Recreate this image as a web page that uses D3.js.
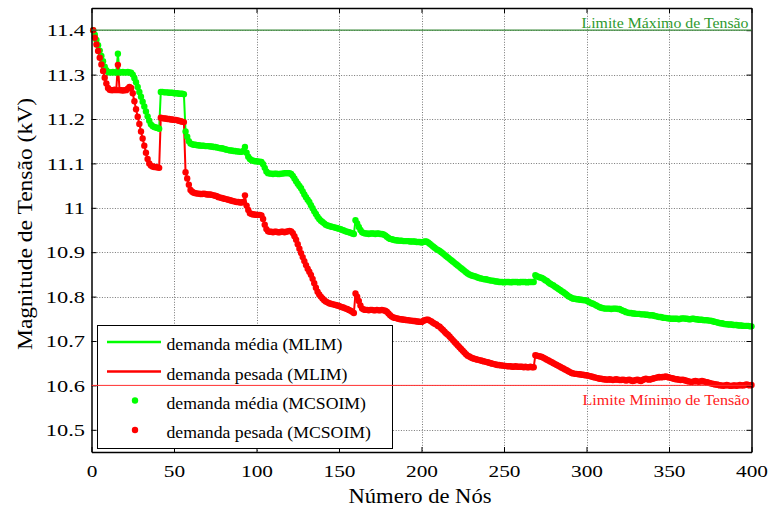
<!DOCTYPE html>
<html>
<head>
<meta charset="utf-8">
<script src="https://cdn.jsdelivr.net/npm/d3@7"></script>
<style>
  html, body { margin: 0; padding: 0; background: #fff; }
  svg { display: block; }
</style>
</head>
<body>
<svg id="chart" width="769" height="508"></svg>
<script>
// Tensão por nó (kV), nós 1..400 — demanda média
const demandaMedia = [
  11.400, 11.390, 11.378, 11.366, 11.354, 11.342, 11.330, 11.318, 11.310, 11.306,
  11.305, 11.305, 11.306, 11.305, 11.305, 11.347, 11.305, 11.305, 11.306, 11.305,
  11.305, 11.306, 11.305, 11.304, 11.300, 11.292, 11.283, 11.272, 11.261, 11.250,
  11.239, 11.228, 11.217, 11.206, 11.196, 11.188, 11.184, 11.182, 11.181, 11.180,
  11.178, 11.261, 11.261, 11.260, 11.260, 11.260, 11.259, 11.259, 11.259, 11.258,
  11.258, 11.258, 11.257, 11.257, 11.257, 11.256, 11.172, 11.160, 11.150, 11.145,
  11.143, 11.142, 11.142, 11.141, 11.141, 11.140, 11.140, 11.140, 11.139, 11.139,
  11.139, 11.138, 11.138, 11.137, 11.137, 11.136, 11.135, 11.134, 11.134, 11.133,
  11.132, 11.131, 11.130, 11.129, 11.129, 11.128, 11.128, 11.127, 11.127, 11.126,
  11.126, 11.128, 11.137, 11.124, 11.115, 11.110, 11.107, 11.106, 11.105, 11.105,
  11.104, 11.104, 11.103, 11.098, 11.090, 11.082, 11.078, 11.077, 11.077, 11.076,
  11.077, 11.077, 11.076, 11.076, 11.077, 11.077, 11.078, 11.078, 11.078, 11.078,
  11.076, 11.072, 11.066, 11.060, 11.054, 11.049, 11.044, 11.037, 11.030, 11.024,
  11.018, 11.013, 11.006, 10.999, 10.992, 10.986, 10.980, 10.975, 10.971, 10.968,
  10.965, 10.962, 10.960, 10.959, 10.958, 10.957, 10.956, 10.955, 10.954, 10.953,
  10.952, 10.950, 10.949, 10.947, 10.946, 10.945, 10.944, 10.942, 10.941, 10.972,
  10.965, 10.957, 10.950, 10.945, 10.943, 10.942, 10.942, 10.941, 10.942, 10.942,
  10.942, 10.941, 10.942, 10.942, 10.941, 10.941, 10.940, 10.938, 10.935, 10.932,
  10.930, 10.929, 10.928, 10.927, 10.927, 10.926, 10.926, 10.926, 10.925, 10.925,
  10.925, 10.925, 10.924, 10.924, 10.924, 10.924, 10.923, 10.923, 10.923, 10.922,
  10.923, 10.924, 10.924, 10.922, 10.919, 10.916, 10.913, 10.910, 10.907, 10.905,
  10.903, 10.900, 10.897, 10.894, 10.891, 10.888, 10.885, 10.882, 10.879, 10.876,
  10.873, 10.870, 10.867, 10.864, 10.861, 10.858, 10.855, 10.852, 10.850, 10.848,
  10.847, 10.846, 10.845, 10.843, 10.842, 10.841, 10.840, 10.839, 10.839, 10.838,
  10.837, 10.836, 10.836, 10.835, 10.834, 10.834, 10.833, 10.833, 10.833, 10.832,
  10.833, 10.833, 10.833, 10.832, 10.833, 10.833, 10.833, 10.833, 10.832, 10.833,
  10.833, 10.833, 10.833, 10.832, 10.833, 10.833, 10.833, 10.833, 10.848, 10.846,
  10.844, 10.843, 10.842, 10.840, 10.837, 10.835, 10.832, 10.829, 10.827, 10.825,
  10.822, 10.820, 10.817, 10.815, 10.812, 10.810, 10.807, 10.804, 10.801, 10.799,
  10.797, 10.795, 10.795, 10.794, 10.794, 10.793, 10.793, 10.792, 10.792, 10.791,
  10.789, 10.787, 10.785, 10.784, 10.782, 10.780, 10.778, 10.776, 10.775, 10.774,
  10.773, 10.773, 10.773, 10.773, 10.772, 10.773, 10.773, 10.773, 10.772, 10.772,
  10.770, 10.768, 10.767, 10.765, 10.764, 10.763, 10.763, 10.762, 10.762, 10.761,
  10.761, 10.761, 10.760, 10.760, 10.760, 10.759, 10.759, 10.758, 10.758, 10.758,
  10.757, 10.756, 10.755, 10.754, 10.754, 10.753, 10.752, 10.752, 10.751, 10.751,
  10.750, 10.750, 10.750, 10.750, 10.750, 10.749, 10.750, 10.751, 10.751, 10.750,
  10.750, 10.749, 10.749, 10.750, 10.750, 10.749, 10.749, 10.748, 10.748, 10.748,
  10.747, 10.747, 10.747, 10.746, 10.746, 10.745, 10.744, 10.743, 10.742, 10.741,
  10.740, 10.740, 10.739, 10.738, 10.738, 10.737, 10.737, 10.737, 10.736, 10.736,
  10.736, 10.735, 10.735, 10.735, 10.734, 10.734, 10.734, 10.734, 10.733, 10.733
];

// Tensão por nó (kV), nós 1..400 — demanda pesada
const demandaPesada = [
  11.400, 11.383, 11.368, 11.353, 11.338, 11.323, 11.308, 11.293, 11.280, 11.270,
  11.266, 11.265, 11.265, 11.266, 11.265, 11.322, 11.265, 11.265, 11.264, 11.265,
  11.265, 11.268, 11.272, 11.270, 11.258, 11.240, 11.222, 11.205, 11.189, 11.172,
  11.156, 11.140, 11.124, 11.110, 11.100, 11.095, 11.093, 11.092, 11.092, 11.091,
  11.090, 11.203, 11.202, 11.201, 11.201, 11.200, 11.200, 11.199, 11.199, 11.198,
  11.198, 11.197, 11.196, 11.195, 11.194, 11.193, 11.080, 11.066, 11.052, 11.040,
  11.036, 11.034, 11.033, 11.032, 11.032, 11.031, 11.031, 11.032, 11.031, 11.030,
  11.030, 11.030, 11.029, 11.028, 11.027, 11.026, 11.024, 11.023, 11.022, 11.021,
  11.020, 11.019, 11.018, 11.017, 11.016, 11.015, 11.014, 11.013, 11.013, 11.012,
  11.012, 11.013, 11.028, 11.005, 10.995, 10.988, 10.986, 10.985, 10.985, 10.984,
  10.984, 10.984, 10.983, 10.975, 10.962, 10.952, 10.947, 10.946, 10.946, 10.945,
  10.946, 10.946, 10.945, 10.945, 10.946, 10.946, 10.945, 10.946, 10.947, 10.948,
  10.947, 10.943, 10.936, 10.928, 10.918, 10.908, 10.898, 10.889, 10.880, 10.871,
  10.863, 10.856, 10.849, 10.840, 10.830, 10.820, 10.811, 10.805, 10.800, 10.796,
  10.792, 10.789, 10.787, 10.785, 10.784, 10.783, 10.782, 10.781, 10.780, 10.779,
  10.777, 10.776, 10.775, 10.773, 10.772, 10.770, 10.768, 10.766, 10.763, 10.807,
  10.800, 10.790, 10.780, 10.773, 10.771, 10.770, 10.770, 10.769, 10.770, 10.770,
  10.769, 10.769, 10.770, 10.769, 10.769, 10.770, 10.769, 10.768, 10.766, 10.762,
  10.758, 10.755, 10.753, 10.752, 10.751, 10.750, 10.749, 10.749, 10.748, 10.748,
  10.747, 10.747, 10.746, 10.746, 10.745, 10.745, 10.744, 10.744, 10.743, 10.743,
  10.745, 10.747, 10.748, 10.748, 10.746, 10.744, 10.741, 10.739, 10.737, 10.734,
  10.732, 10.728, 10.725, 10.721, 10.717, 10.714, 10.710, 10.706, 10.702, 10.698,
  10.694, 10.690, 10.686, 10.682, 10.678, 10.674, 10.670, 10.667, 10.665, 10.663,
  10.661, 10.660, 10.659, 10.658, 10.657, 10.656, 10.655, 10.654, 10.653, 10.652,
  10.651, 10.650, 10.649, 10.648, 10.647, 10.646, 10.646, 10.645, 10.645, 10.644,
  10.644, 10.643, 10.643, 10.643, 10.642, 10.642, 10.643, 10.642, 10.642, 10.642,
  10.642, 10.641, 10.642, 10.641, 10.641, 10.642, 10.641, 10.641, 10.668, 10.667,
  10.666, 10.665, 10.664, 10.662, 10.660, 10.658, 10.656, 10.654, 10.652, 10.650,
  10.648, 10.646, 10.644, 10.642, 10.640, 10.638, 10.636, 10.634, 10.632, 10.630,
  10.628, 10.627, 10.626, 10.626, 10.625, 10.625, 10.624, 10.624, 10.623, 10.623,
  10.622, 10.621, 10.620, 10.619, 10.618, 10.617, 10.616, 10.615, 10.615, 10.614,
  10.614, 10.613, 10.613, 10.614, 10.613, 10.612, 10.613, 10.614, 10.613, 10.612,
  10.612, 10.613, 10.612, 10.611, 10.612, 10.613, 10.611, 10.610, 10.611, 10.612,
  10.613, 10.611, 10.610, 10.612, 10.614, 10.615, 10.614, 10.613, 10.614, 10.615,
  10.616, 10.617, 10.618, 10.619, 10.618, 10.619, 10.619, 10.620, 10.619, 10.618,
  10.617, 10.616, 10.615, 10.614, 10.614, 10.613, 10.612, 10.613, 10.612, 10.611,
  10.610, 10.609, 10.608, 10.608, 10.609, 10.610, 10.609, 10.608, 10.609, 10.610,
  10.609, 10.608, 10.607, 10.606, 10.605, 10.604, 10.603, 10.602, 10.602, 10.601,
  10.600, 10.600, 10.599, 10.600, 10.601, 10.600, 10.599, 10.599, 10.600, 10.600,
  10.599, 10.600, 10.601, 10.600, 10.600, 10.601, 10.602, 10.601, 10.600, 10.601
];

const xTicks = [0, 50, 100, 150, 200, 250, 300, 350, 400];
const yTicks = [10.5, 10.6, 10.7, 10.8, 10.9, 11.0, 11.1, 11.2, 11.3, 11.4];
const yTickLabels = ["10.5", "10.6", "10.7", "10.8", "10.9", "11", "11.1", "11.2", "11.3", "11.4"];

const limiteMaximo = 11.4;
const limiteMinimo = 10.6;

const legendLabels = [
  "demanda média (MLIM)",
  "demanda pesada (MLIM)",
  "demanda média (MCSOIM)",
  "demanda pesada (MCSOIM)"
];

// ---- layout ----
const FONT = "'Liberation Serif', 'Times New Roman', serif";
const plot = { left: 91.5, right: 751.5, top: 8, bottom: 452 };
const verde = "#00ff00", vermelho = "#ff0000";

const svg = d3.select("#chart");
const x = d3.scaleLinear().domain([0, 400]).range([plot.left, plot.right]);
const y = d3.scaleLinear().domain([10.45, 11.45]).range([plot.bottom, plot.top]);

// widen serif text horizontally by a factor (or to a fixed width)
function widen(sel, factor, fixed) {
  sel.each(function () {
    const w = fixed != null ? fixed : this.getComputedTextLength() * factor;
    d3.select(this).attr("textLength", w).attr("lengthAdjust", "spacingAndGlyphs");
  });
}

// grid
const grid = svg.append("g").attr("stroke", "#777").attr("stroke-width", 1)
  .attr("stroke-dasharray", "1,1.6");
grid.selectAll("line.gx").data(xTicks.slice(1, -1)).join("line")
  .attr("x1", d => Math.round(x(d)) + 0.5).attr("x2", d => Math.round(x(d)) + 0.5)
  .attr("y1", plot.top).attr("y2", plot.bottom);
grid.selectAll("line.gy").data(yTicks).join("line")
  .attr("y1", d => Math.round(y(d)) + 0.5).attr("y2", d => Math.round(y(d)) + 0.5)
  .attr("x1", plot.left).attr("x2", plot.right);

// data
const pts = arr => arr.map((v, i) => [i + 1, v]);
const line = d3.line().x(d => x(d[0])).y(d => y(d[1]));
const dataG = svg.append("g");
dataG.append("path").datum(pts(demandaMedia)).attr("d", line)
  .attr("fill", "none").attr("stroke", verde).attr("stroke-width", 2);
dataG.append("path").datum(pts(demandaPesada)).attr("d", line)
  .attr("fill", "none").attr("stroke", vermelho).attr("stroke-width", 2);
dataG.append("g").selectAll("circle").data(pts(demandaMedia)).join("circle")
  .attr("cx", d => x(d[0])).attr("cy", d => y(d[1])).attr("r", 3.2).attr("fill", verde);
dataG.append("g").selectAll("circle").data(pts(demandaPesada)).join("circle")
  .attr("cx", d => x(d[0])).attr("cy", d => y(d[1])).attr("r", 3.2).attr("fill", vermelho);

// axes (ticks pointing inward on all four sides)
const tickLen = 5;
const axL = svg.append("g").attr("transform", `translate(${plot.left},0)`)
  .call(d3.axisLeft(y).tickValues(yTicks).tickFormat((d, i) => yTickLabels[i])
    .tickSizeInner(-tickLen).tickSizeOuter(0).tickPadding(6.5));
const axB = svg.append("g").attr("transform", `translate(0,${plot.bottom})`)
  .call(d3.axisBottom(x).tickValues(xTicks).tickFormat(d3.format("d"))
    .tickSizeInner(-tickLen).tickSizeOuter(0));
const axR = svg.append("g").attr("transform", `translate(${plot.right},0)`)
  .call(d3.axisRight(y).tickValues(yTicks).tickFormat("").tickSizeInner(-tickLen).tickSizeOuter(0));
const axT = svg.append("g").attr("transform", `translate(0,${plot.top})`)
  .call(d3.axisTop(x).tickValues(xTicks).tickFormat("").tickSizeInner(-tickLen).tickSizeOuter(0));
[axL, axB, axR, axT].forEach(a => {
  a.attr("font-family", null).attr("font-size", null);
  a.selectAll("path.domain").attr("stroke", "#000").attr("stroke-width", 1.5);
  a.selectAll(".tick line").attr("stroke", "#000").attr("stroke-width", 1);
  a.selectAll("text").style("font-family", FONT).style("font-size", "17.5px").attr("fill", "#000");
});
axB.selectAll("text").attr("y", 24.7).attr("dy", null);
widen(axL.selectAll("text"), 1.28);
widen(axB.selectAll("text"), 1.22);

// legend
const lg = svg.append("g");
lg.append("rect").attr("x", 97.5).attr("y", 325.5).attr("width", 295).attr("height", 123)
  .attr("fill", "#fff").attr("stroke", "#000").attr("stroke-width", 1);
const rowY = [342, 371.5, 400.5, 430];
const cores = [verde, vermelho, verde, vermelho];
legendLabels.forEach((t, i) => {
  if (i < 2) {
    lg.append("line").attr("x1", 107).attr("x2", 161).attr("y1", rowY[i]).attr("y2", rowY[i])
      .attr("stroke", cores[i]).attr("stroke-width", 2.5);
  } else {
    lg.append("circle").attr("cx", 135).attr("cy", rowY[i]).attr("r", 3.2).attr("fill", cores[i]);
  }
  lg.append("text").attr("x", 166.5).attr("y", rowY[i] + 8).text(t)
    .style("font-family", FONT).style("font-size", "15.8px").attr("fill", "#000");
});
widen(lg.selectAll("text"), 1.12);

// voltage limits
svg.append("line").attr("x1", plot.left).attr("x2", plot.right)
  .attr("y1", y(limiteMaximo)).attr("y2", y(limiteMaximo))
  .attr("stroke", "#3c8c3c").attr("stroke-width", 1.2);
svg.append("line").attr("x1", plot.left).attr("x2", plot.right)
  .attr("y1", y(limiteMinimo)).attr("y2", y(limiteMinimo))
  .attr("stroke", "#ff3030").attr("stroke-width", 1);
const tMax = svg.append("text").attr("x", 748.5).attr("y", y(limiteMaximo) - 2)
  .attr("text-anchor", "end").style("font-family", FONT).style("font-size", "15px")
  .attr("fill", "#2e9a2e").text("Limite Máximo de Tensão");
const tMin = svg.append("text").attr("x", 749.5).attr("y", y(limiteMinimo) + 20)
  .attr("text-anchor", "end").style("font-family", FONT).style("font-size", "15px")
  .attr("fill", "#ff2020").text("Limite Mínimo de Tensão");
widen(tMax, 1, 167);
widen(tMin, 1, 167);

// axis titles
const tx = svg.append("text").attr("x", 420).attr("y", 503).attr("text-anchor", "middle")
  .style("font-family", FONT).style("font-size", "21px").attr("fill", "#000").text("Número de Nós");
widen(tx, 1, 143);
const ty = svg.append("text").attr("transform", "translate(32,224) rotate(-90)")
  .attr("text-anchor", "middle").style("font-family", FONT).style("font-size", "21px")
  .attr("fill", "#000").text("Magnitude de Tensão (kV)");
widen(ty, 1, 252);
</script>
</body>
</html>
